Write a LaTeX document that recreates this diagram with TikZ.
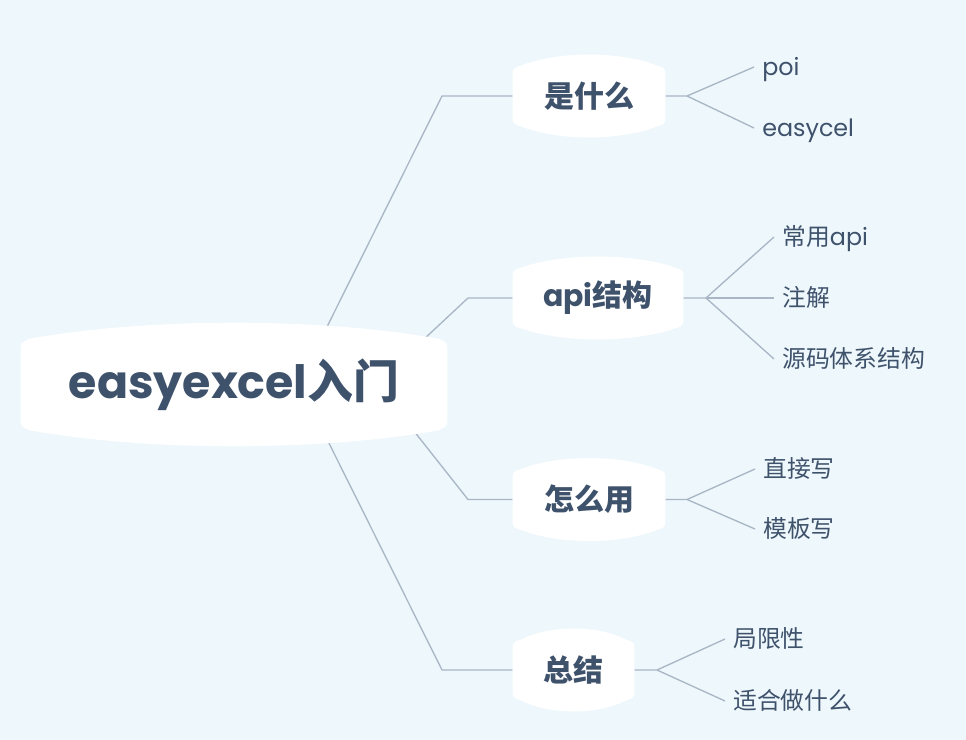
\documentclass[tikz,border=0pt]{standalone}
\usepackage{fontspec}
\setmainfont{Poppins}
\newfontfamily\zh{Noto Sans CJK SC}
\usetikzlibrary{calc}

\definecolor{bgblue}{HTML}{EEF7FB}
\definecolor{inkblue}{HTML}{3F526C}
\definecolor{linkgray}{HTML}{A8B6C6}

\pgfdeclarelayer{bg}
\pgfdeclarelayer{edges}
\pgfdeclarelayer{shapes}
\pgfsetlayers{bg,edges,shapes,main}

% white bubble with bowed top and bottom round a node (#2 = bulge)
\newcommand\bubble[2]{%
  \fill[white] let \p1=(#1.north west), \p2=(#1.south east), \n1={#2}, \n2={0.3*(\x2-\x1)} in
    (\x1,\y2+5pt) -- (\x1,\y1-5pt)
    .. controls (\x1,\y1) .. (\x1+5pt,{\y1+0.2*\n1})
    .. controls ({\x1+\n2},{\y1+1.27*\n1}) and ({\x2-\n2},{\y1+1.27*\n1}) .. (\x2-5pt,{\y1+0.2*\n1})
    .. controls (\x2,\y1) .. (\x2,\y1-5pt) -- (\x2,\y2+5pt)
    .. controls (\x2,\y2) .. (\x2-5pt,{\y2-0.2*\n1})
    .. controls ({\x2-\n2},{\y2-1.27*\n1}) and ({\x1+\n2},{\y2-1.27*\n1}) .. (\x1+5pt,{\y2-0.2*\n1})
    .. controls (\x1,\y2) .. cycle;}

\begin{document}
\begin{tikzpicture}[
  x=0.5669pt, y=-0.5669pt,
  rootnode/.style={inner sep=0pt, minimum width=241.5pt, minimum height=47pt, text=inkblue, font=\fontsize{26}{31}\selectfont\bfseries},
  topic/.style={inner sep=0pt, minimum height=31.2pt, text=inkblue, font=\fontsize{17}{20}\selectfont\bfseries},
  leaf/.style={anchor=west, inner xsep=4.5pt, inner ysep=0pt, text height=1.05em, text depth=0.08em, text=inkblue, font=\fontsize{13.5}{16}\selectfont},
  link/.style={draw=linkgray, line width=0.75pt}
]
  \useasboundingbox (0,0) rectangle (966,740);
  \begin{pgfonlayer}{bg}
    \fill[bgblue] (0,0) rectangle (966,740);
  \end{pgfonlayer}

  % Root
  \node[rootnode] (root) at (234,384.5) {easyexcel{\zh 入门}};

  % Topics
  \node[topic, minimum width=86.2pt] (what) at (589,96) {\zh 是什么};
  \node[topic, minimum width=96.4pt] (api)  at (598,298) {api{\zh 结构}};
  \node[topic, minimum width=86.2pt] (how)  at (589,499.5) {\zh 怎么用};
  \node[topic, minimum width=68.6pt] (sum)  at (573.5,670) {\zh 总结};

  % Leaves
  \node[leaf] (poi)   at (754,67)  {poi};
  \node[leaf] (easy)  at (754,128) {easycel};
  \node[leaf] (comm)  at (774,237) {{\zh 常用}api};
  \node[leaf] (anno)  at (774,298) {\zh 注解};
  \node[leaf] (src)   at (774,359) {\zh 源码体系结构};
  \node[leaf] (direct) at (755,469) {\zh 直接写};
  \node[leaf] (tmpl)  at (755,529) {\zh 模板写};
  \node[leaf] (limit) at (725,639) {\zh 局限性};
  \node[leaf] (fit)   at (725,701) {\zh 适合做什么};

  \begin{pgfonlayer}{shapes}
    \foreach \b/\h in {root/11.3, what/7.7, api/7.7, how/7.7, sum/7.7}
      \bubble{\b}{\h};
  \end{pgfonlayer}

  % Connectors
  \coordinate (o1) at (299,383);
  \coordinate (o2) at (377,383);
  \coordinate (o3) at (376,383);
  \coordinate (o4) at (299,383);
  \coordinate (k1) at (442,96);
  \coordinate (k2) at (468,298);
  \coordinate (k3) at (468,499.5);
  \coordinate (k4) at (442,670);
  \coordinate (f1) at (687,96);
  \coordinate (f2) at (706,298);
  \coordinate (f3) at (687,499.5);
  \coordinate (f4) at (657,670);
  \begin{pgfonlayer}{edges}
    \draw[link] (o1) -- (k1) -- (what);
    \draw[link] (o2) -- (k2) -- (api);
    \draw[link] (o3) -- (k3) -- (how);
    \draw[link] (o4) -- (k4) -- (sum);
    \draw[link] (what) -- (f1) -- (poi.west);
    \draw[link] (f1) -- (easy.west);
    \draw[link] (api) -- (f2) -- (comm.west);
    \draw[link] (f2) -- (anno.west);
    \draw[link] (f2) -- (src.west);
    \draw[link] (how) -- (f3) -- (direct.west);
    \draw[link] (f3) -- (tmpl.west);
    \draw[link] (sum) -- (f4) -- (limit.west);
    \draw[link] (f4) -- (fit.west);
  \end{pgfonlayer}
\end{tikzpicture}
\end{document}
